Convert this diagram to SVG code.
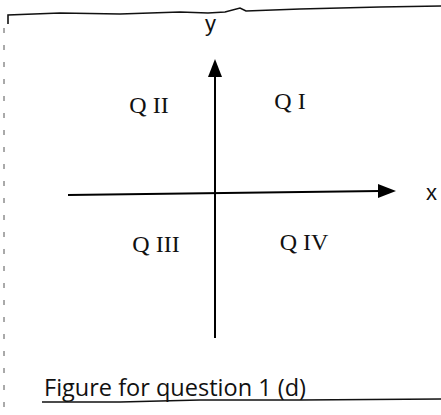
<svg xmlns="http://www.w3.org/2000/svg" width="441" height="415" viewBox="0 0 441 415">
<style>
.lbl{font-family:"Liberation Serif",serif;font-size:24px;fill:#111;}
.axl{font-family:"Liberation Sans",sans-serif;font-size:22px;fill:#111;}
.cap{font-family:"Open Sans","Liberation Sans",sans-serif;font-size:23px;fill:#111;}
.ax{stroke:#000;stroke-width:2;fill:none;}
.frame{stroke:#111;stroke-width:1.6;fill:none;}
</style>
<g id="frame">
<path class="frame" d="M8,24 L8,15 L60,13 L120,14 L180,12 L208,13 L225,12 L240,8 L246,11 L300,9 L380,7 L441,6"/>
<path d="M4,28 L4,415" stroke="#555" stroke-width="1" stroke-dasharray="5,12" fill="none"/>
<path class="frame" d="M42,402 L120,402 L200,400 L300,400 L441,399"/>
</g>
<g id="connectors">
<line class="ax" x1="215" y1="338" x2="215" y2="76"/>
<path d="M208,77 L215,59 L222,77 Z" fill="#000"/>
<line class="ax" x1="68" y1="195" x2="380" y2="191"/>
<path d="M378,184 L396,191 L378,198 Z" fill="#000"/>
</g>
<g id="y-label"><text class="axl" x="205" y="31">y</text></g>
<g id="x-label"><text class="axl" x="426" y="200">x</text></g>
<g id="q2"><text class="lbl" x="149" y="113" text-anchor="middle">Q II</text></g>
<g id="q1"><text class="lbl" x="290" y="109" text-anchor="middle">Q I</text></g>
<g id="q3"><text class="lbl" x="156" y="252" text-anchor="middle">Q III</text></g>
<g id="q4"><text class="lbl" x="304" y="250" text-anchor="middle">Q IV</text></g>
<g id="caption"><text class="cap" x="44" y="396" textLength="262" lengthAdjust="spacingAndGlyphs">Figure for question 1 (d)</text></g>
</svg>
